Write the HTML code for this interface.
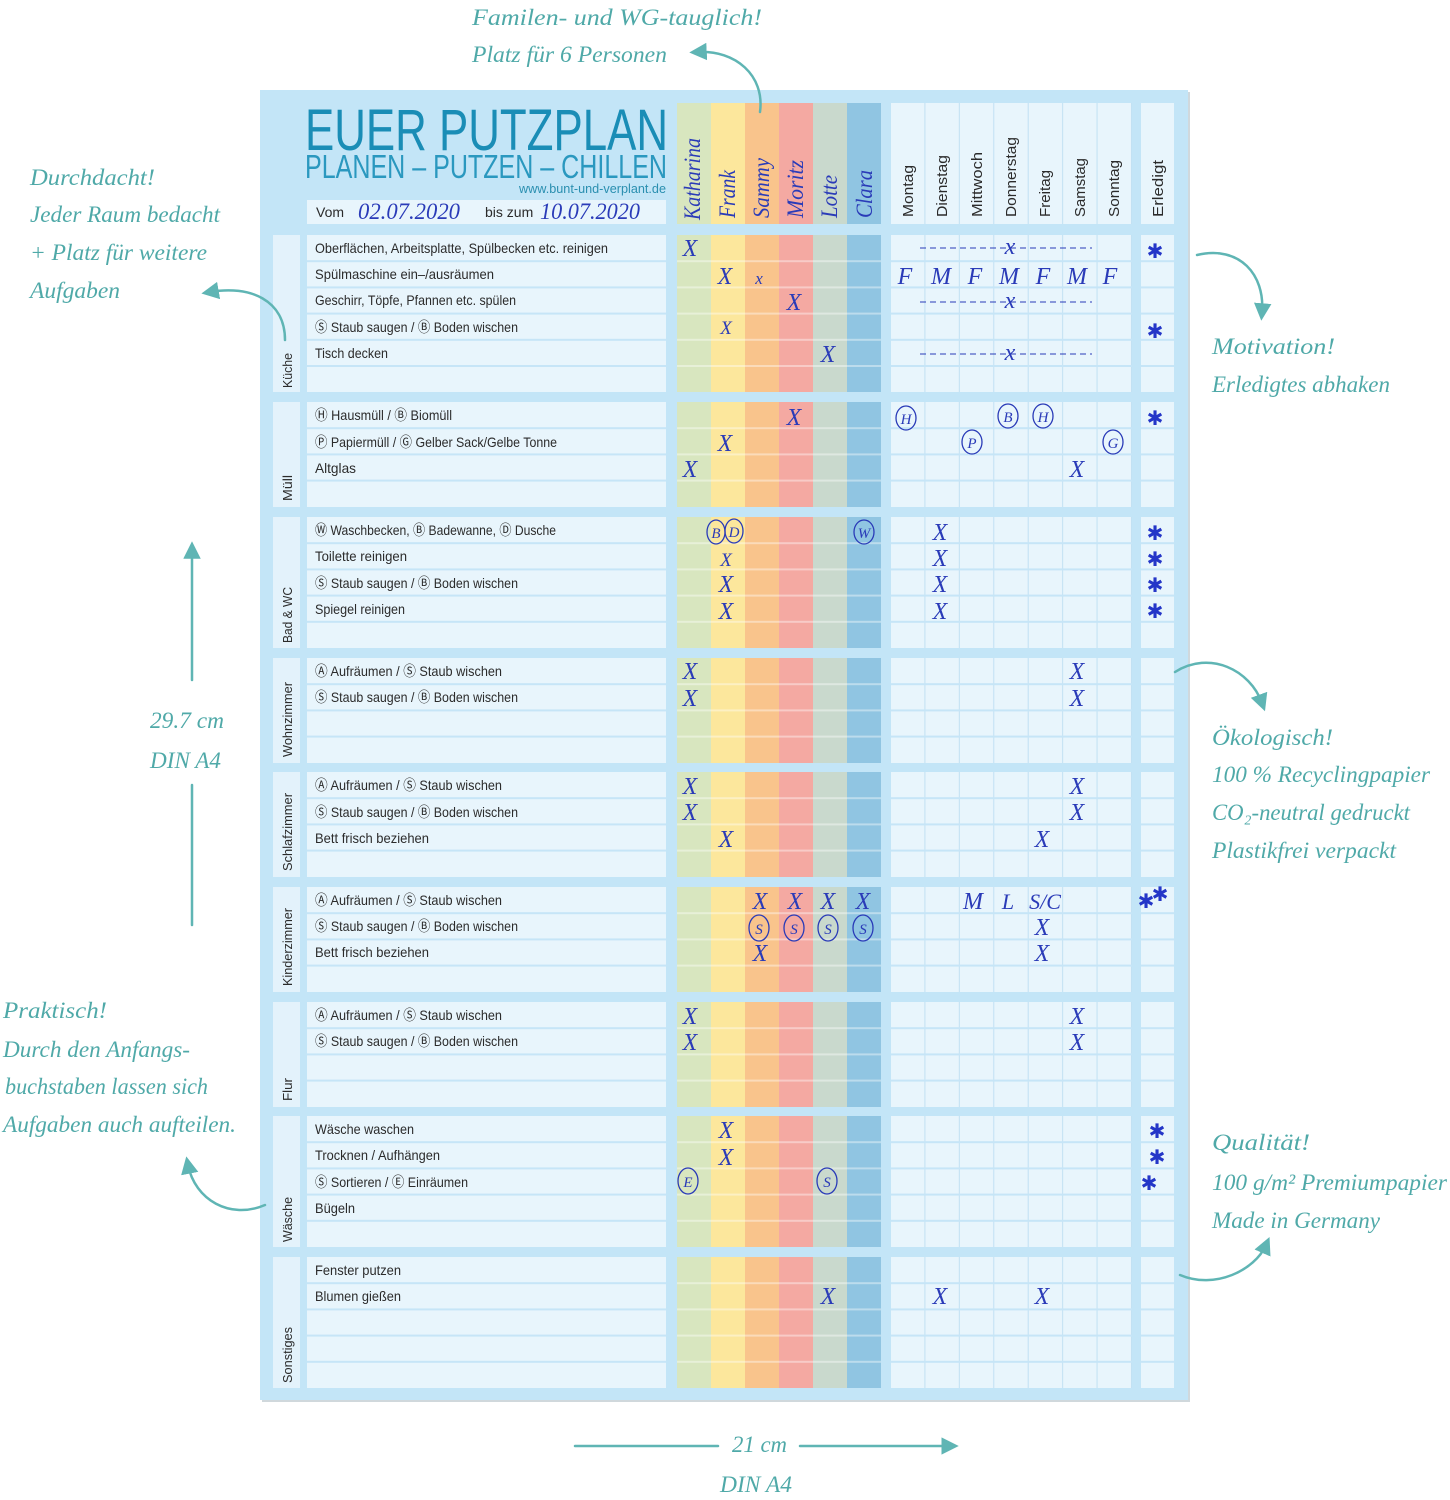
<!DOCTYPE html>
<html><head><meta charset="utf-8"><style>
html,body{margin:0;padding:0;background:#fff;width:1450px;height:1500px;overflow:hidden}
svg{display:block}
.t{font-family:"Liberation Sans Narrow","Liberation Sans",sans-serif;font-size:14px;fill:#2b2b2b}
.m{font-family:"Liberation Serif",serif;font-style:italic;font-size:24px;fill:#2a3bb8;text-anchor:middle}
.c{font-family:"Liberation Serif",serif;font-style:italic;font-size:15px;fill:#2a3bb8;text-anchor:middle}
.s{font-family:"DejaVu Sans",sans-serif;font-size:20px;fill:#2436c8;text-anchor:middle}
.a{font-family:"Liberation Serif",serif;font-style:italic;font-size:23px;fill:#4fa9a8}
.d{font-family:"Liberation Sans Narrow","Liberation Sans",sans-serif;font-size:15px;fill:#2b2b2b}
.n{font-family:"Liberation Serif",serif;font-style:italic;font-size:23px;fill:#2a3bb8}
.r{font-family:"Liberation Sans Narrow","Liberation Sans",sans-serif;font-size:13px;fill:#2b2b2b}
</style></head><body>
<svg width="1450" height="1500" viewBox="0 0 1450 1500" xmlns="http://www.w3.org/2000/svg">
<defs>
<pattern id="dp" patternUnits="userSpaceOnUse" x="891" y="0" width="34.43" height="10">
<rect width="34.43" height="10" fill="#e8f5fc"/><rect x="33.4" width="1.2" height="10" fill="#c2e1f3"/>
</pattern>
<g id="sec">
<rect x="273" y="0" width="27" height="1" fill="#e3f2fb"/>
<rect x="307" y="0" width="359" height="1" fill="#e8f5fc"/>
<rect x="677" y="0" width="34" height="1" fill="#d8e6bf"/>
<rect x="711" y="0" width="34" height="1" fill="#fce79c"/>
<rect x="745" y="0" width="34" height="1" fill="#f9c48c"/>
<rect x="779" y="0" width="34" height="1" fill="#f4a9a2"/>
<rect x="813" y="0" width="34" height="1" fill="#c9d9cd"/>
<rect x="847" y="0" width="34" height="1" fill="#90c5e2"/>
<rect x="891" y="0" width="241" height="1" fill="url(#dp)"/>
<rect x="1141" y="0" width="33" height="1" fill="#e8f5fc"/>
</g>
<g id="rl">
<rect x="307" y="-1" width="359" height="2" fill="#c6e5f7"/>
<rect x="677" y="-1" width="204" height="2" fill="#ffffff" opacity="0.4"/>
<rect x="891" y="-1" width="241" height="2" fill="#c6e5f7"/>
<rect x="1141" y="-1" width="33" height="2" fill="#c6e5f7"/>
</g>
<marker id="ah" markerWidth="7" markerHeight="7" refX="3.5" refY="3.5" orient="auto" markerUnits="strokeWidth"><path d="M0,0 L7,3.5 L0,7 Z" fill="#5fb5b4"/></marker>
</defs>

<rect x="262" y="92" width="928" height="1310" fill="#d0d8dc"/>
<rect x="260" y="90" width="928" height="1310" fill="#c3e5f7"/>

<g transform="translate(0,103) scale(1,121)"><use href="#sec"/></g>
<rect x="262" y="100" width="410" height="125" fill="#c3e5f7"/>
<text x="305" y="150" textLength="363" lengthAdjust="spacingAndGlyphs" font-family="Liberation Sans Narrow, Liberation Sans, sans-serif" font-size="58" fill="#1a8db6">EUER PUTZPLAN</text>
<text x="305" y="178" textLength="362" lengthAdjust="spacingAndGlyphs" font-family="Liberation Sans Narrow, Liberation Sans, sans-serif" font-size="33" fill="#2a98bf">PLANEN – PUTZEN – CHILLEN</text>
<text x="519" y="193" textLength="147" lengthAdjust="spacingAndGlyphs" font-family="Liberation Sans Narrow, Liberation Sans, sans-serif" font-size="13" fill="#2a8fb0">www.bunt-und-verplant.de</text>
<rect x="307" y="200" width="359" height="24" fill="#e8f5fc"/>
<text x="316" y="217" class="t">Vom</text>
<text x="358" y="219" class="n" font-size="19" textLength="102" lengthAdjust="spacingAndGlyphs">02.07.2020</text>
<text x="485" y="217" class="t">bis zum</text>
<text x="540" y="219" class="n" font-size="19" textLength="100" lengthAdjust="spacingAndGlyphs">10.07.2020</text>
<g class="n">
<text transform="translate(700,220) rotate(-90)" textLength="82" lengthAdjust="spacingAndGlyphs">Katharina</text>
<text transform="translate(735,218) rotate(-90)" textLength="48" lengthAdjust="spacingAndGlyphs">Frank</text>
<text transform="translate(769,218) rotate(-90)" textLength="60" lengthAdjust="spacingAndGlyphs">Sammy</text>
<text transform="translate(803,218) rotate(-90)" textLength="58" lengthAdjust="spacingAndGlyphs">Moritz</text>
<text transform="translate(837,218) rotate(-90)" textLength="43" lengthAdjust="spacingAndGlyphs">Lotte</text>
<text transform="translate(872,218) rotate(-90)" textLength="48" lengthAdjust="spacingAndGlyphs">Clara</text>
</g>
<g class="d">
<text transform="translate(913,217) rotate(-90)" textLength="52" lengthAdjust="spacingAndGlyphs">Montag</text>
<text transform="translate(947,217) rotate(-90)" textLength="62" lengthAdjust="spacingAndGlyphs">Dienstag</text>
<text transform="translate(982,217) rotate(-90)" textLength="65" lengthAdjust="spacingAndGlyphs">Mittwoch</text>
<text transform="translate(1016,217) rotate(-90)" textLength="80" lengthAdjust="spacingAndGlyphs">Donnerstag</text>
<text transform="translate(1050,217) rotate(-90)" textLength="47" lengthAdjust="spacingAndGlyphs">Freitag</text>
<text transform="translate(1085,217) rotate(-90)" textLength="59" lengthAdjust="spacingAndGlyphs">Samstag</text>
<text transform="translate(1119,217) rotate(-90)" textLength="57" lengthAdjust="spacingAndGlyphs">Sonntag</text>
<text transform="translate(1163,217) rotate(-90)" textLength="57" lengthAdjust="spacingAndGlyphs">Erledigt</text>
</g>

<g transform="translate(0,235) scale(1,157)"><use href="#sec"/></g>
<g transform="translate(0,402) scale(1,105)"><use href="#sec"/></g>
<g transform="translate(0,517) scale(1,131)"><use href="#sec"/></g>
<g transform="translate(0,658) scale(1,105)"><use href="#sec"/></g>
<g transform="translate(0,772) scale(1,105)"><use href="#sec"/></g>
<g transform="translate(0,887) scale(1,105)"><use href="#sec"/></g>
<g transform="translate(0,1002) scale(1,105)"><use href="#sec"/></g>
<g transform="translate(0,1116) scale(1,131)"><use href="#sec"/></g>
<g transform="translate(0,1257) scale(1,131)"><use href="#sec"/></g>

<use href="#rl" y="261.2"/><use href="#rl" y="287.4"/><use href="#rl" y="313.6"/><use href="#rl" y="339.8"/><use href="#rl" y="366"/>
<use href="#rl" y="428.2"/><use href="#rl" y="454.4"/><use href="#rl" y="480.6"/>
<use href="#rl" y="543.2"/><use href="#rl" y="569.4"/><use href="#rl" y="595.6"/><use href="#rl" y="621.8"/>
<use href="#rl" y="684.2"/><use href="#rl" y="710.4"/><use href="#rl" y="736.6"/>
<use href="#rl" y="798.2"/><use href="#rl" y="824.4"/><use href="#rl" y="850.6"/>
<use href="#rl" y="913.2"/><use href="#rl" y="939.4"/><use href="#rl" y="965.6"/>
<use href="#rl" y="1028.2"/><use href="#rl" y="1054.4"/><use href="#rl" y="1080.6"/>
<use href="#rl" y="1142.2"/><use href="#rl" y="1168.4"/><use href="#rl" y="1194.6"/><use href="#rl" y="1220.8"/>
<use href="#rl" y="1283.2"/><use href="#rl" y="1309.4"/><use href="#rl" y="1335.6"/><use href="#rl" y="1361.8"/>

<g class="r">
<text transform="translate(292,388) rotate(-90)" textLength="35" lengthAdjust="spacingAndGlyphs">Küche</text>
<text transform="translate(292,501) rotate(-90)" textLength="26" lengthAdjust="spacingAndGlyphs">Müll</text>
<text transform="translate(292,643) rotate(-90)" textLength="56" lengthAdjust="spacingAndGlyphs">Bad &amp; WC</text>
<text transform="translate(292,757) rotate(-90)" textLength="75" lengthAdjust="spacingAndGlyphs">Wohnzimmer</text>
<text transform="translate(292,871) rotate(-90)" textLength="78" lengthAdjust="spacingAndGlyphs">Schlafzimmer</text>
<text transform="translate(292,986) rotate(-90)" textLength="78" lengthAdjust="spacingAndGlyphs">Kinderzimmer</text>
<text transform="translate(292,1101) rotate(-90)" textLength="23" lengthAdjust="spacingAndGlyphs">Flur</text>
<text transform="translate(292,1242) rotate(-90)" textLength="45" lengthAdjust="spacingAndGlyphs">Wäsche</text>
<text transform="translate(292,1383) rotate(-90)" textLength="56" lengthAdjust="spacingAndGlyphs">Sonstiges</text>
</g>

<g class="t">
<text x="315" y="253" textLength="293" lengthAdjust="spacingAndGlyphs">Oberflächen, Arbeitsplatte, Spülbecken etc. reinigen</text>
<text x="315" y="279" textLength="179" lengthAdjust="spacingAndGlyphs">Spülmaschine ein–/ausräumen</text>
<text x="315" y="305" textLength="201" lengthAdjust="spacingAndGlyphs">Geschirr, Töpfe, Pfannen etc. spülen</text>
<text x="315" y="332" textLength="203" lengthAdjust="spacingAndGlyphs">Ⓢ Staub saugen / Ⓑ Boden wischen</text>
<text x="315" y="358" textLength="73" lengthAdjust="spacingAndGlyphs">Tisch decken</text>
<text x="315" y="420" textLength="137" lengthAdjust="spacingAndGlyphs">Ⓗ Hausmüll / Ⓑ Biomüll</text>
<text x="315" y="447" textLength="242" lengthAdjust="spacingAndGlyphs">Ⓟ Papiermüll / Ⓖ Gelber Sack/Gelbe Tonne</text>
<text x="315" y="473" textLength="41" lengthAdjust="spacingAndGlyphs">Altglas</text>
<text x="315" y="535" textLength="241" lengthAdjust="spacingAndGlyphs">Ⓦ Waschbecken, Ⓑ Badewanne, Ⓓ Dusche</text>
<text x="315" y="561" textLength="92" lengthAdjust="spacingAndGlyphs">Toilette reinigen</text>
<text x="315" y="588" textLength="203" lengthAdjust="spacingAndGlyphs">Ⓢ Staub saugen / Ⓑ Boden wischen</text>
<text x="315" y="614" textLength="90" lengthAdjust="spacingAndGlyphs">Spiegel reinigen</text>
<text x="315" y="676" textLength="187" lengthAdjust="spacingAndGlyphs">Ⓐ Aufräumen / Ⓢ Staub wischen</text>
<text x="315" y="702" textLength="203" lengthAdjust="spacingAndGlyphs">Ⓢ Staub saugen / Ⓑ Boden wischen</text>
<text x="315" y="790" textLength="187" lengthAdjust="spacingAndGlyphs">Ⓐ Aufräumen / Ⓢ Staub wischen</text>
<text x="315" y="817" textLength="203" lengthAdjust="spacingAndGlyphs">Ⓢ Staub saugen / Ⓑ Boden wischen</text>
<text x="315" y="843" textLength="114" lengthAdjust="spacingAndGlyphs">Bett frisch beziehen</text>
<text x="315" y="905" textLength="187" lengthAdjust="spacingAndGlyphs">Ⓐ Aufräumen / Ⓢ Staub wischen</text>
<text x="315" y="931" textLength="203" lengthAdjust="spacingAndGlyphs">Ⓢ Staub saugen / Ⓑ Boden wischen</text>
<text x="315" y="957" textLength="114" lengthAdjust="spacingAndGlyphs">Bett frisch beziehen</text>
<text x="315" y="1020" textLength="187" lengthAdjust="spacingAndGlyphs">Ⓐ Aufräumen / Ⓢ Staub wischen</text>
<text x="315" y="1046" textLength="203" lengthAdjust="spacingAndGlyphs">Ⓢ Staub saugen / Ⓑ Boden wischen</text>
<text x="315" y="1134" textLength="99" lengthAdjust="spacingAndGlyphs">Wäsche waschen</text>
<text x="315" y="1160" textLength="125" lengthAdjust="spacingAndGlyphs">Trocknen / Aufhängen</text>
<text x="315" y="1187" textLength="153" lengthAdjust="spacingAndGlyphs">Ⓢ Sortieren / Ⓔ Einräumen</text>
<text x="315" y="1213" textLength="40" lengthAdjust="spacingAndGlyphs">Bügeln</text>
<text x="315" y="1275" textLength="86" lengthAdjust="spacingAndGlyphs">Fenster putzen</text>
<text x="315" y="1301" textLength="86" lengthAdjust="spacingAndGlyphs">Blumen gießen</text>
</g>

<g class="m">
<text x="690" y="256">X</text><text x="725" y="284">X</text><text x="759" y="284" font-size="17">x</text>
<text x="794" y="310">X</text><text x="726" y="334" font-size="19">X</text><text x="828" y="362">X</text>
<text x="794" y="425">X</text><text x="725" y="451">X</text><text x="690" y="477">X</text><text x="1077" y="477">X</text>
<text x="726" y="566" font-size="19">X</text><text x="726" y="592">X</text><text x="726" y="619">X</text>
<text x="940" y="540">X</text><text x="940" y="566">X</text><text x="940" y="592">X</text><text x="940" y="619">X</text>
<text x="690" y="679">X</text><text x="690" y="706">X</text><text x="1077" y="679">X</text><text x="1077" y="706">X</text>
<text x="690" y="794">X</text><text x="690" y="820">X</text><text x="726" y="847">X</text><text x="1077" y="794">X</text><text x="1077" y="820">X</text><text x="1042" y="847">X</text>
<text x="760" y="909">X</text><text x="795" y="909">X</text><text x="828" y="909">X</text><text x="863" y="909">X</text>
<text x="760" y="961">X</text><text x="1042" y="935">X</text><text x="1042" y="961">X</text>
<text x="973" y="909">M</text><text x="1008" y="909" font-size="22">L</text><text x="1045" y="909" font-size="22">S/C</text>
<text x="690" y="1024">X</text><text x="690" y="1050">X</text><text x="1077" y="1024">X</text><text x="1077" y="1050">X</text>
<text x="726" y="1138">X</text><text x="726" y="1165">X</text>
<text x="828" y="1304">X</text><text x="940" y="1304">X</text><text x="1042" y="1304">X</text>
<text x="905" y="284">F</text><text x="941" y="284">M</text><text x="975" y="284">F</text><text x="1009" y="284">M</text><text x="1043" y="284">F</text><text x="1077" y="284">M</text><text x="1110" y="284">F</text>
</g>
<g stroke="#2a3bb8" stroke-width="1" stroke-dasharray="6,4">
<line x1="920" y1="248" x2="1092" y2="248"/><line x1="920" y1="302" x2="1092" y2="302"/><line x1="920" y1="354" x2="1092" y2="354"/>
</g>
<g class="m" font-size="18"><text x="1010" y="254">x</text><text x="1010" y="308">x</text><text x="1010" y="360">x</text></g>
<g fill="none" stroke="#2a3bb8" stroke-width="1.3">
<ellipse cx="906" cy="418" rx="10" ry="12"/><ellipse cx="1008" cy="416" rx="10" ry="12"/><ellipse cx="1043" cy="416" rx="10" ry="12"/>
<ellipse cx="972" cy="442" rx="10" ry="12"/><ellipse cx="1113" cy="442" rx="10" ry="12"/>
<ellipse cx="716" cy="532" rx="9" ry="12"/><ellipse cx="734" cy="531" rx="9" ry="12"/><ellipse cx="864" cy="532" rx="10" ry="12"/>
<ellipse cx="759" cy="928" rx="10" ry="13"/><ellipse cx="794" cy="928" rx="10" ry="13"/><ellipse cx="828" cy="928" rx="10" ry="13"/><ellipse cx="863" cy="928" rx="10" ry="13"/>
<ellipse cx="688" cy="1181" rx="10" ry="13"/><ellipse cx="827" cy="1181" rx="10" ry="13"/>
</g>
<g class="c">
<text x="906" y="424">H</text><text x="1008" y="422">B</text><text x="1043" y="422">H</text><text x="972" y="448">P</text><text x="1113" y="448">G</text>
<text x="716" y="538">B</text><text x="734" y="537">D</text><text x="864" y="538">W</text>
<text x="759" y="934">S</text><text x="794" y="934">S</text><text x="828" y="934">S</text><text x="863" y="934">S</text>
<text x="688" y="1187">E</text><text x="827" y="1187">S</text>
</g>
<g class="s">
<text x="1155" y="258">✱</text><text x="1155" y="338">✱</text><text x="1155" y="425">✱</text>
<text x="1155" y="540">✱</text><text x="1155" y="566">✱</text><text x="1155" y="592">✱</text><text x="1155" y="618">✱</text>
<text x="1146" y="908">✱</text><text x="1160" y="901">✱</text>
<text x="1157" y="1138">✱</text><text x="1157" y="1164">✱</text><text x="1149" y="1190">✱</text>
</g>

<g class="a">
<text x="472" y="25" textLength="290" lengthAdjust="spacingAndGlyphs">Familen- und WG-tauglich!</text>
<text x="472" y="62" textLength="195" lengthAdjust="spacingAndGlyphs">Platz für 6 Personen</text>
<text x="30" y="185" textLength="125" lengthAdjust="spacingAndGlyphs">Durchdacht!</text>
<text x="30" y="222" textLength="190" lengthAdjust="spacingAndGlyphs">Jeder Raum bedacht</text>
<text x="30" y="260" textLength="177" lengthAdjust="spacingAndGlyphs">+ Platz für weitere</text>
<text x="30" y="298" textLength="90" lengthAdjust="spacingAndGlyphs">Aufgaben</text>
<text x="150" y="728" textLength="74" lengthAdjust="spacingAndGlyphs">29.7 cm</text>
<text x="150" y="768" textLength="71" lengthAdjust="spacingAndGlyphs">DIN A4</text>
<text x="3" y="1018" textLength="104" lengthAdjust="spacingAndGlyphs">Praktisch!</text>
<text x="3" y="1057" textLength="187" lengthAdjust="spacingAndGlyphs">Durch den Anfangs-</text>
<text x="5" y="1094" textLength="203" lengthAdjust="spacingAndGlyphs">buchstaben lassen sich</text>
<text x="3" y="1132" textLength="233" lengthAdjust="spacingAndGlyphs">Aufgaben auch aufteilen.</text>
<text x="1212" y="354" textLength="123" lengthAdjust="spacingAndGlyphs">Motivation!</text>
<text x="1212" y="392" textLength="178" lengthAdjust="spacingAndGlyphs">Erledigtes abhaken</text>
<text x="1212" y="745" textLength="121" lengthAdjust="spacingAndGlyphs">Ökologisch!</text>
<text x="1212" y="782" textLength="218" lengthAdjust="spacingAndGlyphs">100 % Recyclingpapier</text>
<text x="1212" y="820" textLength="198" lengthAdjust="spacingAndGlyphs">CO₂-neutral gedruckt</text>
<text x="1212" y="858" textLength="184" lengthAdjust="spacingAndGlyphs">Plastikfrei verpackt</text>
<text x="1212" y="1150" textLength="98" lengthAdjust="spacingAndGlyphs">Qualität!</text>
<text x="1212" y="1190" textLength="235" lengthAdjust="spacingAndGlyphs">100 g/m² Premiumpapier</text>
<text x="1212" y="1228" textLength="168" lengthAdjust="spacingAndGlyphs">Made in Germany</text>
<text x="732" y="1452" textLength="55" lengthAdjust="spacingAndGlyphs">21 cm</text>
<text x="720" y="1492" textLength="72" lengthAdjust="spacingAndGlyphs">DIN A4</text>
</g>
<g fill="none" stroke="#5fb5b4" stroke-width="2.5" stroke-linecap="round">
<path d="M760,112 C765,75 735,50 698,52" marker-end="url(#ah)"/>
<path d="M285,340 C285,300 250,285 210,292" marker-end="url(#ah)"/>
<path d="M1197,255 C1240,245 1265,275 1262,312" marker-end="url(#ah)"/>
<path d="M1175,672 C1210,650 1250,670 1262,703" marker-end="url(#ah)"/>
<path d="M265,1205 C230,1220 195,1200 188,1165" marker-end="url(#ah)"/>
<path d="M1180,1275 C1215,1290 1255,1270 1266,1245" marker-end="url(#ah)"/>
<line x1="192" y1="680" x2="192" y2="550" marker-end="url(#ah)"/>
<line x1="192" y1="785" x2="192" y2="925"/>
<line x1="575" y1="1446" x2="718" y2="1446"/>
<line x1="800" y1="1446" x2="950" y2="1446" marker-end="url(#ah)"/>
</g>
</svg>
</body></html>
